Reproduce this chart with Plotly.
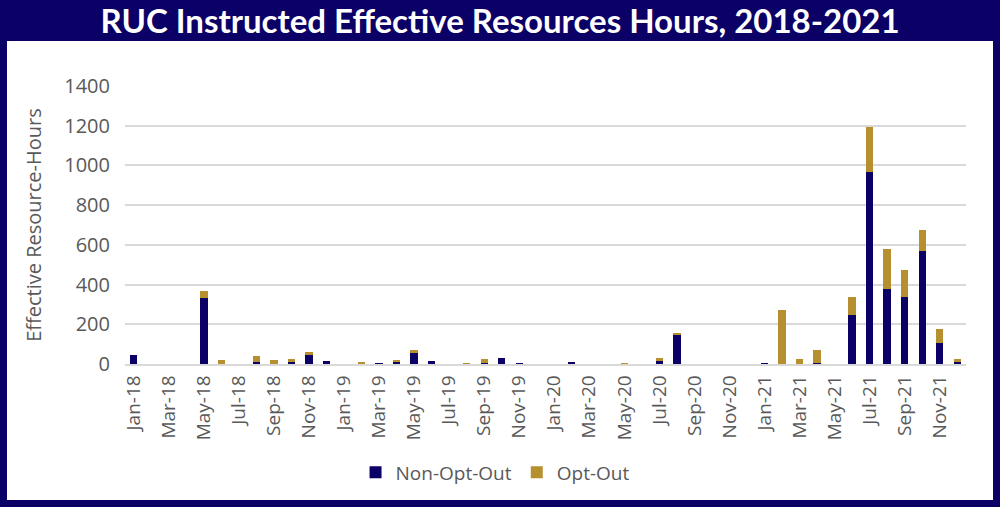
import plotly.graph_objects as go

months = [f"{m}-{y}" for y in ["18", "19", "20", "21"]
          for m in ["Jan", "Feb", "Mar", "Apr", "May", "Jun", "Jul", "Aug", "Sep", "Oct", "Nov", "Dec"]]

non_opt_out = [45, 0, 0, 0, 330, 0, 0, 12, 0, 10, 45, 13,
               0, 0, 5, 13, 55, 13, 0, 0, 5, 32, 1, 0,
               0, 10, 0, 0, 0, 0, 15, 148, 0, 0, 0, 0,
               3, 0, 0, 5, 0, 245, 965, 377, 337, 571, 105, 10]
opt_out = [0, 0, 0, 0, 40, 18, 0, 27, 18, 14, 15, 0,
           0, 8, 0, 7, 15, 0, 0, 5, 19, 0, 0, 0,
           0, 0, 0, 0, 4, 0, 15, 8, 0, 0, 0, 0,
           0, 272, 27, 65, 0, 90, 230, 202, 138, 102, 72, 14]

tick_labels = months[::2]
y_ticks = [0, 200, 400, 600, 800, 1000, 1200, 1400]

NAVY = "#0b0066"
GOLD = "#b68f2f"
GREY = "#595959"

fig = go.Figure()
fig.add_trace(go.Bar(x=months, y=non_opt_out, name="Non-Opt-Out",
                     marker=dict(color=NAVY, line=dict(width=0))))
fig.add_trace(go.Bar(x=months, y=opt_out, name="Opt-Out",
                     marker=dict(color=GOLD, line=dict(width=0))))

fig.update_layout(
    width=1000, height=507,
    barmode="stack", bargap=0.58,
    paper_bgcolor=NAVY, plot_bgcolor="white",
    margin=dict(l=125, r=34, t=86, b=143),
    title=dict(text="RUC Instructed Effective Resources Hours, 2018-2021",
               x=0.5, xanchor="center", y=0.958, yanchor="middle",
               font=dict(family="Lato", size=33, color="white", weight="bold")),
    font=dict(family="Open Sans", color=GREY),
    showlegend=True,
    legend=dict(orientation="h", x=0.44, xanchor="center", y=-0.39, yanchor="middle",
                font=dict(family="Open Sans", size=19, color=GREY),
                bgcolor="rgba(0,0,0,0)", itemwidth=30, traceorder="normal"),
    shapes=[dict(type="rect", xref="paper", yref="paper",
                 x0=-118 / 841, x1=1 + 27 / 841, y0=-136 / 278, y1=1 + 45 / 278,
                 fillcolor="white", line=dict(width=0), layer="below")],
)
fig.update_xaxes(type="category", tickvals=tick_labels, ticktext=tick_labels,
                 tickangle=-90, tickfont=dict(family="Open Sans", size=19, color=GREY),
                 showgrid=False, showline=True, linecolor="#d9d9d9", linewidth=1.5,
                 ticks="", ticklabelstandoff=2)
fig.update_yaxes(range=[0, 1400], tickvals=y_ticks,
                 tickfont=dict(family="Open Sans", size=20, color=GREY),
                 showgrid=True, gridcolor="#d9d9d9", gridwidth=1.5,
                 zeroline=False, ticks="", ticklabelstandoff=14,
                 title=dict(text="Effective Resource-Hours", standoff=17,
                            font=dict(family="Open Sans", size=20, color=GREY)))

fig.write_html("out.html", config={"displayModeBar": False},
               post_script="document.body.style.margin='0';document.body.style.background='%s';" % NAVY)
